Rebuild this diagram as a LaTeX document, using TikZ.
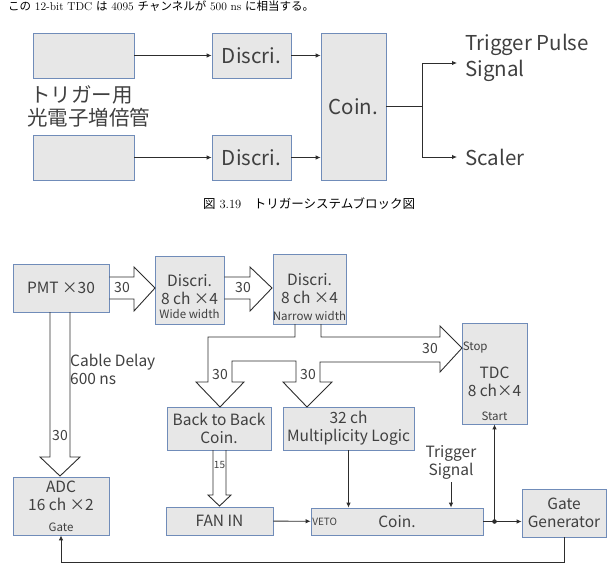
\documentclass[tikz,border=0pt]{standalone}
\usepackage{fontspec}
\usetikzlibrary{positioning,arrows.meta}

\newfontfamily\jpfont{Noto Sans CJK JP}

\definecolor{boxedge}{RGB}{112,140,185}
\definecolor{boxfill}{RGB}{231,231,231}
\definecolor{inkgray}{RGB}{64,64,64}
\definecolor{linegray}{RGB}{45,45,45}

\begin{document}
\begin{tikzpicture}[x=1pt, y=-1pt, >={Latex[length=5pt,width=4.5pt]}]

        \tikzset{box/.style={draw=boxedge, fill=boxfill, line width=0.8pt, inner sep=0pt, text=inkgray},
                 big/.style={font=\jpfont\fontsize{20.5}{26}\selectfont, text=inkgray},
                 mid/.style={font=\jpfont\fontsize{15.5}{18}\selectfont, text=inkgray, align=center},
                 num/.style={font=\jpfont\fontsize{14}{16}\selectfont, text=inkgray, inner sep=0pt},
                 small/.style={font=\jpfont\fontsize{11.5}{13}\selectfont, text=inkgray},
                 wire/.style={draw=linegray, line width=0.9pt},
                 fat/.style={draw=linegray, line width=0.9pt, line join=miter}}

        \useasboundingbox (0,0) rectangle (615,572);

        % sentence above the first diagram
        \node[anchor=base west, inner sep=0pt, font=\fontsize{11.5}{14}\selectfont] (intro) at (8,11)
            {{\jpfont この} 12-bit TDC {\jpfont は} 4095 {\jpfont チャンネルが} 500 ns {\jpfont に相当する。}};

        % first diagram: two PMTs, two discriminators, one coincidence
        \node[box, minimum width=101pt, minimum height=45pt] (pmta) at (83.5,55.5) {};
        \node[box, minimum width=101pt, minimum height=45pt] (pmtb) at (83.5,157.5) {};
        \node[big, align=left, anchor=west, inner sep=0pt] (pmtlabel) at (27,106)
            {\hspace{3pt}トリガー用\\[-3pt]光電子増倍管};

        \node[box, big, minimum width=79pt, minimum height=45pt] (disa) at (251.5,55.5) {Discri.};
        \node[box, big, minimum width=79pt, minimum height=45pt] (disb) at (251.5,157.5) {Discri.};
        \node[box, big, minimum width=65pt, minimum height=147pt] (coin) at (353.5,106.5) {Coin.};

        % outputs on the right
        \coordinate (split) at (422,106.5);
        \coordinate (pulsein) at (457,63);
        \coordinate (scalerin) at (457,157);
        \node[big, align=left, anchor=west, inner sep=0pt] (pulse) at (465,58) {Trigger Pulse\\Signal};
        \node[big, anchor=west, inner sep=0pt] (scaler) at (465,157) {Scaler};

        \draw[wire, ->] (pmta) -- (disa);
        \draw[wire, ->] (pmtb) -- (disb);
        \draw[wire, ->] (disa) -- (disa -| coin.west);
        \draw[wire, ->] (disb) -- (disb -| coin.west);
        \draw[wire] (coin) -- (split);
        \draw[wire, ->] (split) |- (pulsein);
        \draw[wire, ->] (split) |- (scalerin);

        % caption
        \node[anchor=base, inner sep=0pt, font=\fontsize{12.5}{14}\selectfont] (caption) at (309,208)
            {{\jpfont 図} 3.19\quad{\jpfont トリガーシステムブロック図}};

        % second diagram, top row
        \node[box, mid, minimum width=96pt, minimum height=48pt] (pmt) at (61,288) {PMT ×30};
        \node[box, mid, minimum width=69pt, minimum height=68pt] (discw) at (189.5,290) {Discri.\\8 ch ×4};
        \node[small, above=2.5pt of discw.south] (discwsub) {Wide width};
        \node[box, mid, minimum width=73pt, minimum height=70pt] (discn) at (309.5,289) {Discri.\\8 ch ×4};
        \node[small, above=0pt of discn.south] (discnsub) {Narrow width};

        % TDC on the right
        \node[box, minimum width=65pt, minimum height=101pt] (tdc) at (494.5,373.5) {};
        \node[mid] (tdctext) at (494.5,381.5) {TDC\\8 ch×4};
        \node[small, above=0pt of tdc.south] (tdcstart) {Start};
        \node[small, anchor=west, inner sep=1pt] (tdcstop) at (tdc.west |- 0,348) {Stop};

        % middle row
        \node[box, mid, minimum width=104pt, minimum height=43pt] (b2b) at (219,428.5) {Back to Back\\Coin.};
        \node[box, mid, minimum width=131pt, minimum height=43pt] (mult) at (348.5,428.5) {32 ch\\Multiplicity Logic};
        \node[mid, anchor=west, align=left, inner sep=0pt] (delay) at (70,369) {Cable Delay\\600 ns};

        % bottom row
        \node[box, minimum width=96pt, minimum height=58pt] (adc) at (61,506) {};
        \node[mid] (adctext) at (61,496) {ADC\\16 ch ×2};
        \node[small, above=0pt of adc.south] (adcgate) {Gate};

        \node[box, mid, minimum width=107pt, minimum height=28pt] (fanin) at (219.5,521) {FAN IN};
        \node[box, mid, minimum width=172pt, minimum height=27pt] (coinb) at (397,521.5) {Coin.};
        \node[small, font=\jpfont\fontsize{10}{12}\selectfont, anchor=west, inner sep=1.5pt] (veto) at (coinb.west) {VETO};
        \node[mid] (trig) at (451,462) {Trigger\\Signal};
        \node[box, mid, minimum width=84pt, minimum height=48pt] (gategen) at (564,513) {Gate\\Generator};
        \coordinate (junction) at (tdc.south |- coinb.east);

        % bundled signals (wide arrows)
        \draw[fat] (pmt.east |- 0,277) -- (134,277) -- (134,267) -- (155,288) -- (134,311) -- (134,299) -- (pmt.east |- 0,299);
        \draw[fat] (discw.east |- 0,277) -- (250,277) -- (250,267) -- (272,288) -- (250,311) -- (250,299) -- (discw.east |- 0,299);
        \draw[fat] (50,312) -- (50,457) -- (40,457) -- (60,476) -- (80,457) -- (70,457) -- (70,312);
        \draw[fat] (295,324) -- (295,337) -- (208,337) -- (208,382) -- (196,382) -- (220,407) -- (244,382)
            -- (232,382) -- (232,361) -- (296,361) -- (296,382) -- (283,382) -- (307,407) -- (332,382)
            -- (320,382) -- (320,362) -- (440,362) -- (440,372) -- (462,348) -- (440,326) -- (440,337)
            -- (321,337) -- (321,324);
        \draw[fat] (213,450) -- (213,495) -- (208,495) -- (219.5,506) -- (231,495) -- (226,495) -- (226,450);

        % channel counts
        \node[num] (n1) at (122,288) {30};
        \node[num] (n2) at (243,288) {30};
        \node[num] (n3) at (60,436) {30};
        \node[num] (n4) at (220,375) {30};
        \node[num] (n5) at (308,375) {30};
        \node[num] (n6) at (430,349) {30};
        \node[num, font=\jpfont\fontsize{10}{12}\selectfont] (n7) at (219.5,465) {15};

        % single lines
        \draw[wire, ->] (fanin) -- (coinb);
        \draw[wire, ->] (mult) -- (mult |- coinb.north);
        \draw[wire, ->] (trig) -- (trig |- coinb.north);
        \draw[wire] (coinb) -- (junction);
        \draw[wire, ->] (junction) -- (junction -| gategen.west);
        \draw[wire, ->] (junction) -- (tdc);
        \fill[linegray] (junction) circle (2.3pt);
        \draw[wire, ->] (gategen.south) -- ++(0,25) -| (adc.south);

    \end{tikzpicture}
\end{document}
